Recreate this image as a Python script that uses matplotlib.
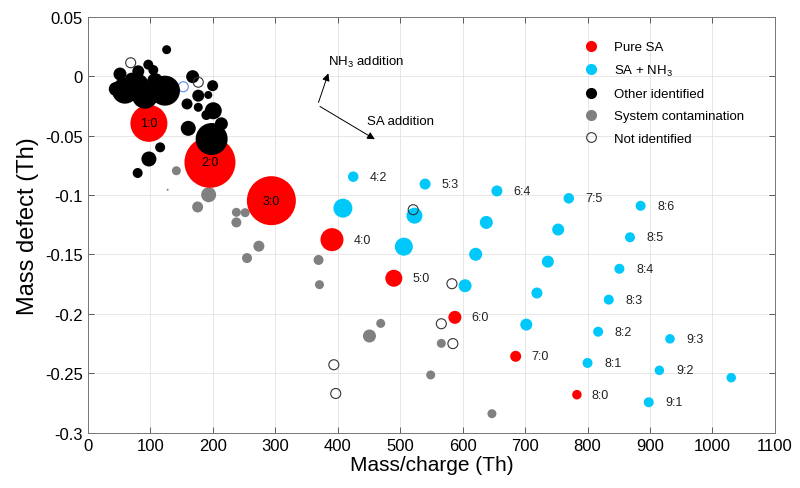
import matplotlib

matplotlib.use("Agg")
import matplotlib.pyplot as plt
from matplotlib.lines import Line2D
from matplotlib.ticker import FuncFormatter

plt.rcParams["font.family"] = ["Liberation Sans", "DejaVu Sans"]
plt.rcParams["mathtext.default"] = "regular"
plt.rcParams["axes.unicode_minus"] = False

# ---- data ----
# pure sulfuric acid clusters (relative marker diameter ~ signal)
sa_mz = [98, 195.7, 294, 391, 490, 587.7, 685, 783]
sa_md = [-0.0396, -0.0724, -0.1047, -0.1375, -0.170, -0.2029, -0.2357, -0.268]
sa_sig = [37, 51, 49, 23, 17, 13, 11, 9.5]
sa_lab = ["1:0", "2:0", "3:0", "4:0", "5:0", "6:0", "7:0", "8:0"]

# SA + NH3 clusters
am_mz = [425, 408.5, 540, 523, 506, 655, 638, 621, 604, 770, 753, 736.5, 719, 702,
         885, 868, 851, 834, 817, 800, 932, 915, 898, 1030]
am_md = [-0.0845, -0.111, -0.0907, -0.1173, -0.1434, -0.0965, -0.123, -0.1498, -0.1763,
         -0.1027, -0.129, -0.156, -0.1824, -0.209, -0.109, -0.1355, -0.162, -0.188,
         -0.215, -0.2413, -0.221, -0.2475, -0.2744, -0.2537]
am_sig = [10.5, 19, 11, 16, 18, 11, 13, 13, 13, 10.5, 12, 12, 11, 12,
          10, 10, 10, 10, 10, 10, 9.5, 9.5, 10, 9.5]
am_lab = ["4:2", "", "5:3", "", "", "6:4", "", "", "", "7:5", "", "", "", "",
          "8:6", "8:5", "8:4", "8:3", "8:2", "8:1", "9:3", "9:2", "9:1", ""]

# other identified
ot_mz = [126.4, 97, 105, 51.7, 81, 59.7, 91.7, 123.7, 81, 45, 168, 200, 177, 193,
         159, 177, 201, 190, 214, 161, 198.4, 116, 98, 80, 108, 70]
ot_md = [0.0224, 0.0098, 0.0053, 0.0019, 0.0042, -0.0121, -0.0163, -0.0121, -0.0065,
         -0.0107, -0.0003, -0.0079, -0.0163, -0.0157, -0.0233, -0.0261, -0.029,
         -0.0326, -0.040, -0.0438, -0.0528, -0.0598, -0.0696, -0.0814, -0.004, -0.002]
ot_sig = [9, 10, 10, 13, 12, 26, 26, 30, 20, 14, 13, 11, 12, 8,
          11, 9, 17, 10, 13, 15, 32, 10, 15, 10, 16, 12]

# system contamination
co_mz = [142, 128, 193.6, 176, 238, 252, 238, 274, 255, 369.5, 371, 469, 451, 566, 549, 647]
co_md = [-0.0795, -0.0955, -0.0997, -0.110, -0.1145, -0.1148, -0.123, -0.143, -0.153,
         -0.1546, -0.1754, -0.208, -0.2186, -0.2248, -0.2514, -0.284]
co_sig = [9, 2, 15, 11, 9, 9, 10, 11, 10, 10, 9, 9, 13, 9, 9, 9]

# not identified
ni_mz = [68.8, 177, 521, 583, 566, 584.5, 394, 397]
ni_md = [0.0114, -0.005, -0.1123, -0.1746, -0.2083, -0.225, -0.2428, -0.267]
nib_mz = [153]
nib_md = [-0.0088]

RED = "#FF0000"
BLUE = "#00C8FA"
GRAY = "#808080"


def area(sig):
    # marker diameter in px -> scatter area in pt^2 (dpi 100)
    return [(d * 0.72) ** 2 for d in sig]


fig = plt.figure(figsize=(8, 4.89), dpi=100)
ax = fig.add_axes([0.1096, 0.1131, 0.8591, 0.8503])

ax.scatter(co_mz, co_md, s=area(co_sig), c=GRAY, linewidths=0, zorder=2)
ax.scatter(sa_mz, sa_md, s=area(sa_sig), c=RED, linewidths=0, zorder=3)
ax.scatter(am_mz, am_md, s=area(am_sig), c=BLUE, linewidths=0, zorder=3)
ax.scatter(nib_mz, nib_md, s=area([10]), facecolors="none", edgecolors="#5b8def",
           linewidths=0.8, zorder=3)
ax.scatter(ot_mz, ot_md, s=area(ot_sig), c="black", linewidths=0, zorder=4)
ax.scatter(ni_mz, ni_md, s=area([10] * len(ni_mz)), facecolors="none",
           edgecolors="#333333", linewidths=0.8, zorder=5)

# cluster labels
for x, y, lab, d in zip(sa_mz, sa_md, sa_lab, sa_sig):
    if d > 30:
        ax.text(x, y, lab, ha="center", va="center", fontsize=9, zorder=6)
    else:
        ax.annotate(lab, (x, y), xytext=(d * 0.36 + 7, 0), textcoords="offset points",
                    ha="left", va="center", fontsize=9, color="#222222")
for x, y, lab in zip(am_mz, am_md, am_lab):
    if lab:
        ax.annotate(lab, (x, y), xytext=(12, 0), textcoords="offset points",
                    ha="left", va="center", fontsize=9, color="#222222")

# direction arrows
ax.annotate("", xy=(386.6, 0.0047), xytext=(368, -0.0242),
            arrowprops=dict(arrowstyle="-|>", lw=0.7, color="black", mutation_scale=11))
ax.annotate("", xy=(463.4, -0.0542), xytext=(368, -0.0242),
            arrowprops=dict(arrowstyle="-|>", lw=0.7, color="black", mutation_scale=11))
ax.text(384.5, 0.0123, "NH$_3$ addition", fontsize=9.5, va="center", ha="left")
ax.text(447, -0.0374, "SA addition", fontsize=9.5, va="center", ha="left")

ax.set_xlim(0, 1100)
ax.set_ylim(-0.3, 0.05)
ax.set_xticks(range(0, 1101, 100))
ax.set_yticks([0.05, 0, -0.05, -0.1, -0.15, -0.2, -0.25, -0.3])
ax.yaxis.set_major_formatter(FuncFormatter(lambda v, p: f"{v:g}"))
ax.tick_params(direction="in", length=4, width=0.6, top=True, right=True,
               labelsize=12, colors="#444444", labelcolor="black")
for sp in ax.spines.values():
    sp.set_color("#777777")
    sp.set_linewidth(0.7)
ax.grid(True, color="#e3e3e3", lw=0.6)
ax.set_axisbelow(True)
ax.set_xlabel("Mass/charge (Th)", fontsize=15, labelpad=2)
ax.set_ylabel("Mass defect (Th)", fontsize=17, labelpad=4)

handles = [
    Line2D([], [], ls="", marker="o", ms=7, mfc=RED, mec=RED),
    Line2D([], [], ls="", marker="o", ms=7, mfc=BLUE, mec=BLUE),
    Line2D([], [], ls="", marker="o", ms=7, mfc="black", mec="black"),
    Line2D([], [], ls="", marker="o", ms=7, mfc=GRAY, mec=GRAY),
    Line2D([], [], ls="", marker="o", ms=7, mfc="none", mec="#333333", mew=0.8),
]
names = ["Pure SA", "SA + NH$_3$", "Other identified", "System contamination",
         "Not identified"]
ax.legend(handles, names, loc="upper left", bbox_to_anchor=(0.705, 0.955),
          frameon=False, fontsize=9.5, handletextpad=0.8, labelspacing=0.75,
          borderaxespad=0)

fig.savefig("out.png", dpi=100)
